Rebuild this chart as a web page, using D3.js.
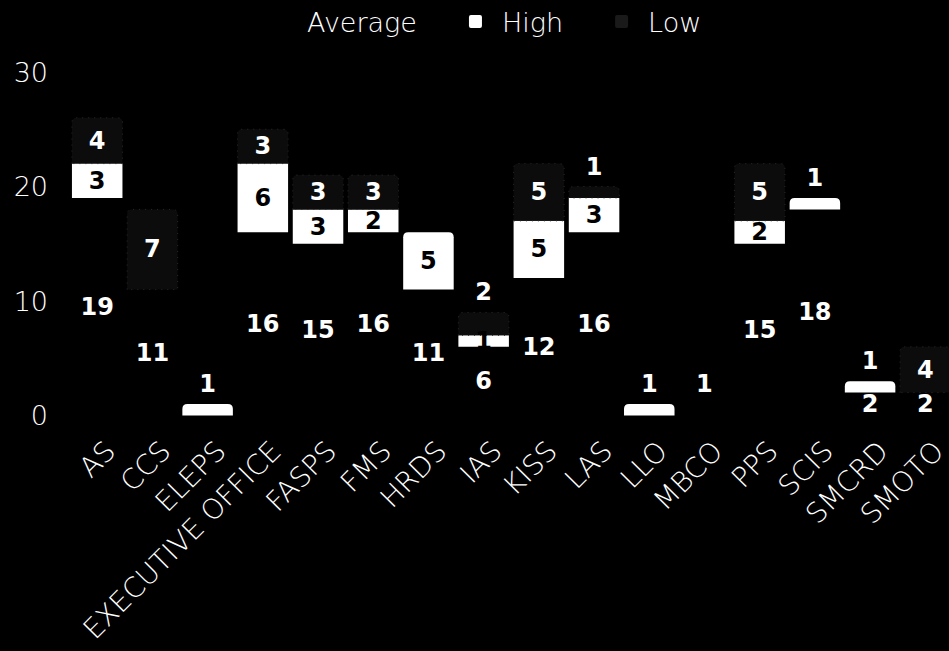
<!DOCTYPE html>
<html>
<head>
<meta charset="utf-8">
<script src="https://cdn.jsdelivr.net/npm/d3@7"></script>
<style>
  html, body { margin: 0; padding: 0; background: #000; }
  svg { display: block; }
</style>
</head>
<body>
<svg id="chart" width="949" height="651"></svg>
<script>
// Headcount per office: average, high and low components
const categories = ["AS", "CCS", "ELEPS", "EXECUTIVE OFFICE", "FASPS", "FMS", "HRDS", "IAS",
                    "KISS", "LAS", "LLO", "MBCO", "PPS", "SCIS", "SMCRD", "SMOTO"];
const average = [19, 11, 0, 16, 15, 16, 11, 6, 12, 16, 0, 1, 15, 18, 2, 2];
const high    = [3, 0, 1, 6, 3, 2, 5, 1, 5, 3, 1, 0, 2, 1, 1, 0];
const low     = [4, 7, 0, 3, 3, 3, 0, 2, 5, 1, 0, 0, 5, 0, 0, 4];
const seriesNames = ["Average", "High", "Low"];
const yTicks = [0, 10, 20, 30];

const colors = { Average: "#000000", High: "#ffffff", Low: "#0c0c0c" };
const labelColors = { Average: "#ffffff", High: "#000000", Low: "#ffffff" };

const lightFont = "'DejaVu Sans', sans-serif";
const svg = d3.select("#chart");

const rows = categories.map((c, i) => ({ cat: c, Average: average[i], High: high[i], Low: low[i] }));
const stacked = d3.stack().keys(seriesNames)(rows);

const x = d3.scaleBand().domain(categories).range([69.6, 952.9]).paddingInner(0.085).paddingOuter(0.0425);
const y = d3.scaleLinear().domain([0, 30]).range([415.5, 72]);

// topmost non-empty segment of each stack gets rounded top corners
const topKey = rows.map(r => {
  let k = null;
  seriesNames.forEach(s => { if (r[s] > 0) k = s; });
  return k;
});

function segPath(x0, x1, yTop, yBot, r) {
  r = Math.min(r, (yBot - yTop), (x1 - x0) / 2);
  return `M${x0},${yBot}V${yTop + r}Q${x0},${yTop} ${x0 + r},${yTop}H${x1 - r}Q${x1},${yTop} ${x1},${yTop + r}V${yBot}Z`;
}

// bars
stacked.forEach(layer => {
  const key = layer.key;
  const g = svg.append("g").attr("class", "series-" + key);
  layer.forEach((d, i) => {
    if (d[1] - d[0] <= 0) return;
    const x0 = x(categories[i]), x1 = x0 + x.bandwidth();
    const yTop = y(d[1]), yBot = y(d[0]);
    const rad = topKey[i] === key ? 5 : 0;
    g.append("path")
      .attr("d", segPath(x0, x1, yTop, yBot, rad))
      .attr("fill", colors[key])
      .attr("stroke", key === "Low" ? "#2a2a2a" : "none")
      .attr("stroke-width", key === "Low" ? 1 : 0)
      .attr("stroke-dasharray", key === "Low" ? "1,5" : null);
  });
});

// value labels
stacked.forEach(layer => {
  const key = layer.key;
  layer.forEach((d, i) => {
    const v = d[1] - d[0];
    if (v <= 0) return;
    const cx = x(categories[i]) + x.bandwidth() / 2;
    const outside = topKey[i] === key && v <= 2;
    const cy = outside ? y(d[1]) - 20 : (y(d[0]) + y(d[1])) / 2;
    svg.append("text")
      .attr("x", cx)
      .attr("y", cy)
      .attr("text-anchor", "middle")
      .attr("dominant-baseline", "central")
      .attr("font-family", "'DejaVu Sans', sans-serif")
      .attr("font-weight", "bold")
      .attr("font-size", 24)
      .attr("fill", outside ? "#ffffff" : labelColors[key])
      .text(v);
  });
});

// y axis labels (no line, no ticks)
const yAxis = svg.append("g").attr("transform", "translate(48,0)")
  .call(d3.axisLeft(y).tickValues(yTicks).tickSize(0).tickPadding(0));
yAxis.select(".domain").remove();
yAxis.selectAll("text")
  .attr("fill", "#ffffff")
  .attr("font-family", lightFont)
  .attr("font-weight", 200)
  .attr("font-size", 27)
  .attr("dy", "0.35em");

// x axis labels, rotated
const xAxis = svg.append("g").attr("transform", "translate(0,446)")
  .call(d3.axisBottom(x).tickSize(0).tickPadding(0));
xAxis.select(".domain").remove();
xAxis.selectAll("text")
  .attr("fill", "#ffffff")
  .attr("font-family", lightFont)
  .attr("font-weight", 200)
  .attr("font-size", 28)
  .attr("text-anchor", "end")
  .attr("y", 0)
  .attr("dy", "0.35em")
  .attr("transform", "translate(13,0) rotate(-45)");

// legend
const legend = svg.append("g").attr("class", "legend");
let lx = 274;
seriesNames.forEach(name => {
  legend.append("rect")
    .attr("x", lx).attr("y", 15).attr("width", 13).attr("height", 13).attr("rx", 2)
    .attr("fill", name === "Low" ? "#1a1a1a" : colors[name]);
  const t = legend.append("text")
    .attr("x", lx + 33).attr("y", 32)
    .attr("fill", "#ffffff")
    .attr("font-family", lightFont)
    .attr("font-weight", 200)
    .attr("font-size", 27)
    .text(name);
  lx += 33 + t.node().getComputedTextLength() + 52;
});
</script>
</body>
</html>
